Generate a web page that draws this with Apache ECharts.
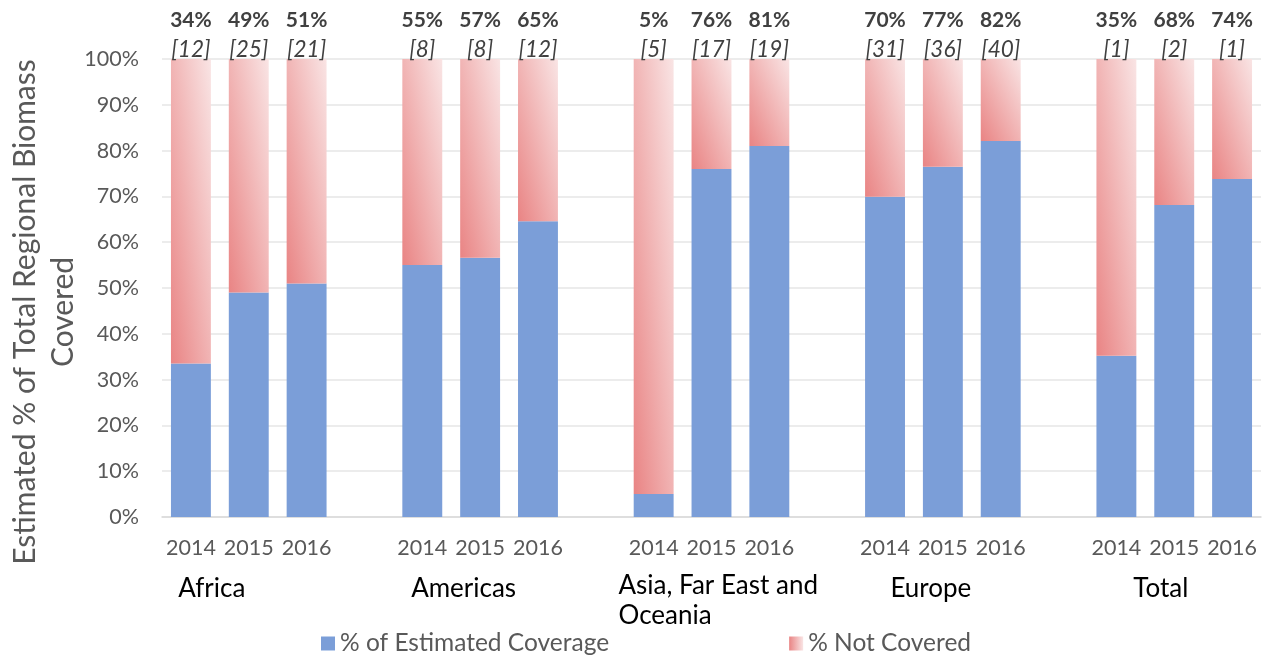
<!DOCTYPE html>
<html>
<head>
<meta charset="utf-8">
<script src="https://cdn.jsdelivr.net/npm/echarts@6/dist/echarts.min.js"></script>
<style>
  html, body { margin: 0; padding: 0; background: #fff; }
  #main { width: 1267px; height: 658px; }
</style>
</head>
<body>
<div id="main"></div>
<script>
// data
var regions = ['Africa', 'Americas', 'Asia, Far East and\nOceania', 'Europe', 'Total'];
var years = ['2014', '2015', '2016'];
var coverage = [33.5, 49, 51, 55, 56.6, 64.6, 5, 76, 81, 69.9, 76.5, 82.1, 35.2, 68.1, 73.8];
var notCovered = [66.5, 51, 49, 45, 43.4, 35.4, 95, 24, 19, 30.1, 23.5, 17.9, 64.8, 31.9, 26.2];
var counts = [12, 25, 21, 8, 8, 12, 5, 17, 19, 31, 36, 40, 1, 2, 1];
var yTitle = 'Estimated % of Total Regional Biomass\nCovered';

var FONT = 'Lato';
var PLOT_H = 458, BAR_W = 40;   // used only to shape the diagonal fill

// Excel-style diagonal fill: runs corner to corner in the bar's own box
function pinkFill(v) {
  var k = BAR_W / Math.max(v * PLOT_H / 100, 1);
  var x2 = 2 / (1 + k * k);
  var y2 = 1 - 2 * k * k / (1 + k * k);
  return new echarts.graphic.LinearGradient(0, 1, x2, y2, [
    { offset: 0, color: '#e98484' },
    { offset: 1, color: '#f9e4e4' }
  ]);
}

// 19 slots: 3 bars per region plus an empty slot between regions
var cats = [], groupCats = [], covData = [], notData = [], slotIdx = [];
regions.forEach(function (r, g) {
  years.forEach(function (y, k) {
    var i = g * 3 + k;
    cats.push(y);
    groupCats.push(k === 1 ? r : '');
    covData.push(coverage[i]);
    notData.push({ value: notCovered[i], itemStyle: { color: pinkFill(notCovered[i]) } });
    slotIdx.push(i);
  });
  if (g < regions.length - 1) {
    cats.push('');
    groupCats.push('');
    covData.push('-');
    notData.push('-');
    slotIdx.push(-1);
  }
});

// per-group nudges for the region names
var groupRich = {
  g0: { padding: [0, 74, 0, 0] },
  g1: { padding: [0, 33, 0, 0] },
  g2: { padding: [0, 0, 0, 26], width: 212, align: 'left', lineHeight: 30 },
  g3: { padding: [0, 24, 0, 0] },
  g4: { padding: [0, 27, 0, 0] }
};

var chart = echarts.init(document.getElementById('main'));
var option = {
  animation: false,
  textStyle: { fontFamily: FONT },
  grid: { left: 162, right: 6, top: 59, bottom: 141, outerBoundsMode: 'none' },
  graphic: [{
    type: 'text',
    x: 44,
    y: 312,
    rotation: Math.PI / 2,
    style: {
      text: yTitle,
      font: '30px ' + FONT,
      fill: '#595959',
      align: 'center',
      verticalAlign: 'middle',
      lineHeight: 38
    }
  }],
  legend: {
    left: 316,
    top: 626,
    itemWidth: 14,
    itemHeight: 14,
    itemGap: 180,
    icon: 'rect',
    textStyle: { fontFamily: FONT, fontSize: 24.5, color: '#595959' },
    data: [
      { name: '% of Estimated Coverage' },
      { name: '% Not Covered', itemStyle: { color: new echarts.graphic.LinearGradient(0, 0, 1, 0, [
        { offset: 0, color: '#e98484' }, { offset: 1, color: '#f9e4e4' }]) } }
    ]
  },
  xAxis: [{
    type: 'category',
    data: cats,
    axisTick: { show: false },
    axisLine: { lineStyle: { color: '#d9d9d9', width: 1.5 } },
    axisLabel: { interval: 0, margin: 20, fontSize: 21.5, color: '#595959', fontFamily: FONT }
  }, {
    type: 'category',
    data: groupCats,
    position: 'bottom',
    offset: 46,
    axisTick: { show: false },
    axisLine: { show: false },
    axisLabel: {
      interval: 0,
      fontSize: 26,
      lineHeight: 35,
      color: '#000',
      fontFamily: FONT,
      formatter: function (v) {
        var g = regions.indexOf(v);
        if (g < 0) return '';
        return v.split('\n').map(function (s) { return '{g' + g + '|' + s + '}'; }).join('\n');
      },
      rich: groupRich
    }
  }],
  yAxis: {
    type: 'value',
    min: 0,
    max: 100,
    interval: 10,
    axisLine: { show: false },
    axisTick: { show: false },
    axisLabel: { formatter: '{value}%', fontSize: 21.5, color: '#595959', margin: 23, fontFamily: FONT },
    splitLine: { lineStyle: { color: '#e6e6e6', width: 1.5 } }
  },
  series: [{
    name: '% of Estimated Coverage',
    type: 'bar',
    stack: 'total',
    barWidth: '69%',
    itemStyle: { color: '#7b9ed8' },
    data: covData
  }, {
    name: '% Not Covered',
    type: 'bar',
    stack: 'total',
    barWidth: '69%',
    label: {
      show: true,
      position: 'top',
      distance: -6,
      formatter: function (p) {
        var i = slotIdx[p.dataIndex];
        if (i < 0) return '';
        return '{p|' + Math.round(coverage[i]) + '%}\n{c|[' + counts[i] + ']}';
      },
      rich: {
        p: { fontSize: 21, fontWeight: 'bold', color: '#404040', lineHeight: 30, fontFamily: FONT },
        c: { fontSize: 22.5, fontStyle: 'italic', color: '#404040', lineHeight: 30, fontFamily: FONT }
      }
    },
    data: notData
  }]
};
chart.setOption(option);
</script>
</body>
</html>
